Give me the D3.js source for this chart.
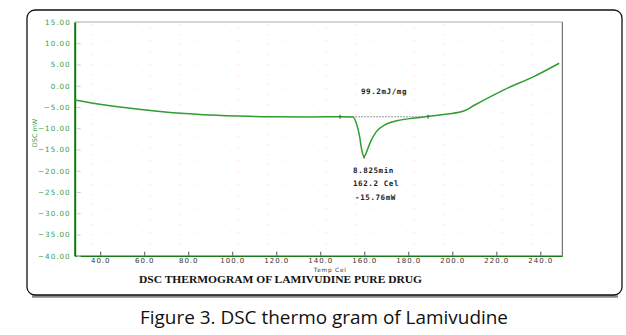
<!DOCTYPE html>
<html>
<head>
<meta charset="utf-8">
<script src="https://cdn.jsdelivr.net/npm/d3@7"></script>
<style>
  html, body { margin: 0; padding: 0; background: #fff; }
  svg { display: block; }
</style>
</head>
<body>
<svg id="chart" width="626" height="335"></svg>
<script>
// ---- data ----
const temps  = [28.5, 41.4, 56.5, 71.7, 86.8, 102, 117.1, 135, 148.9, 154.9, 156.4, 157.9, 158.6, 159.3, 159.9, 160.5, 161.4, 163.2, 165.5, 169.2, 175.2, 182.8, 190.4, 198, 205.5, 210, 223.7, 236.8, 248.6];
const values = [-3.36, -4.5, -5.5, -6.3, -6.8, -7.1, -7.3, -7.35, -7.3, -7.35, -8.85, -12, -14.4, -16.1, -16.7, -16.3, -15.1, -12.8, -10.8, -9.25, -8.2, -7.6, -7.1, -6.66, -5.9, -4.6, -0.9, 2.1, 5.3];
const xTicks = [40, 60, 80, 100, 120, 140, 160, 180, 200, 220, 240];
const yTicks = [15, 10, 5, 0, -5, -10, -15, -20, -25, -30, -35, -40];
const baselineT = [149, 189];
const baselineV = -7.3;
const peak = { t: 159.9, v: -16.7 };
const enthalpyLabel = "99.2mJ/mg";
const peakLabels = ["8.825min", "162.2 Cel", "-15.76mW"];
const title = "DSC THERMOGRAM OF LAMIVUDINE PURE DRUG";
const caption = "Figure 3. DSC thermo gram of Lamivudine";
const xLabel = "Temp Cel";
const yLabel = "DSC mW";

// ---- layout ----
const svg = d3.select("#chart");
const x = d3.scaleLinear().domain([28.4, 250]).range([74.7, 562.3]);
const y = d3.scaleLinear().domain([-40, 15]).range([255.7, 22]);

// outer frame
svg.append("line").attr("x1", 32).attr("x2", 618).attr("y1", 296.5).attr("y2", 296.5)
  .attr("stroke", "#888").attr("stroke-width", 2.5);
svg.append("rect").attr("x", 27).attr("y", 10).attr("width", 595).attr("height", 285)
  .attr("rx", 8).attr("fill", "none").attr("stroke", "#111").attr("stroke-width", 1.3);

// faint dotted grid
const grid = svg.append("g");
xTicks.forEach((t, i) => {
  grid.append("line").attr("x1", x(t) - 8).attr("x2", x(t) - 8).attr("y1", 24).attr("y2", 254)
    .attr("stroke", i % 2 ? "#d9f2d9" : "#f3d3f3").attr("stroke-dasharray", "1,9");
  grid.append("line").attr("x1", x(t) + 6).attr("x2", x(t) + 6).attr("y1", 28).attr("y2", 254)
    .attr("stroke", i % 2 ? "#f3d3f3" : "#d9f2d9").attr("stroke-dasharray", "1,11");
});

// plot borders
svg.append("line").attr("x1", x(28.4)).attr("x2", x(250)).attr("y1", y(15)).attr("y2", y(15))
  .attr("stroke", "#b0b0b0").attr("stroke-width", 1);
svg.append("line").attr("x1", x(250)).attr("x2", x(250)).attr("y1", y(15)).attr("y2", y(-40))
  .attr("stroke", "#555").attr("stroke-width", 1);

// x axis
const xAxis = svg.append("g").attr("transform", `translate(0,${y(-40)})`)
  .call(d3.axisBottom(x).tickValues(xTicks).tickSize(0).tickPadding(2.5).tickFormat(d3.format(".1f")));
xAxis.select(".domain").attr("stroke", "#1a7a1a").attr("stroke-width", 1.6);
xAxis.selectAll("text").attr("font-family", "DejaVu Sans").attr("font-size", 7)
  .attr("letter-spacing", 1).attr("fill", "#333");
xAxis.selectAll(".tick").append("line").attr("y1", 0).attr("y2", -4).attr("stroke", "#555");

// y axis
const yAxis = svg.append("g").attr("transform", `translate(${x(28.4)},0)`)
  .call(d3.axisLeft(y).tickValues(yTicks).tickSize(0).tickPadding(4).tickFormat(d3.format(".2f")));
yAxis.select(".domain").attr("stroke", "#0a7a0a").attr("stroke-width", 2);
yAxis.selectAll("text").attr("font-family", "DejaVu Sans").attr("font-size", 7.2)
  .attr("letter-spacing", 1).attr("fill", "#3aa040");
yAxis.selectAll(".tick").append("line").attr("x1", 2).attr("x2", 6).attr("stroke", "#ccc");

// axis titles
svg.append("text").attr("x", x(140) + 10).attr("y", 271.5).attr("text-anchor", "middle")
  .attr("font-family", "DejaVu Sans").attr("font-size", 5.8).attr("letter-spacing", 0.8)
  .attr("fill", "#333").text(xLabel);
svg.append("text").attr("transform", "translate(37,133) rotate(-90)").attr("text-anchor", "middle")
  .attr("font-family", "DejaVu Sans").attr("font-size", 6.5)
  .attr("fill", "#3aa040").text(yLabel);

// chart title
svg.append("text").attr("x", 280.5).attr("y", 283).attr("text-anchor", "middle")
  .attr("font-family", "Liberation Serif").attr("font-weight", "bold").attr("font-size", 9.5)
  .attr("textLength", 283).attr("lengthAdjust", "spacingAndGlyphs")
  .attr("fill", "#111").text(title);

// baseline
svg.append("line").attr("x1", x(baselineT[0])).attr("x2", x(baselineT[1]))
  .attr("y1", y(baselineV)).attr("y2", y(baselineV))
  .attr("stroke", "#999").attr("stroke-width", 1).attr("stroke-dasharray", "2,1");

// curve
const pts = temps.map((t, i) => [t, values[i]]);
svg.append("path").datum(pts)
  .attr("d", d3.line().x(d => x(d[0])).y(d => y(d[1])).curve(d3.curveMonotoneX))
  .attr("fill", "none").attr("stroke", "#2f9e2f").attr("stroke-width", 1.5);

// markers
baselineT.forEach(t => {
  svg.append("line").attr("x1", x(t)).attr("x2", x(t)).attr("y1", y(baselineV) - 2).attr("y2", y(baselineV) + 2)
    .attr("stroke", "#444").attr("stroke-width", 1);
});
svg.append("line").attr("x1", x(peak.t)).attr("x2", x(peak.t)).attr("y1", y(peak.v) - 1).attr("y2", y(peak.v) + 2)
  .attr("stroke", "#444").attr("stroke-width", 1);

// annotations
const ann = (txt, cx, cy) => svg.append("text").attr("x", cx).attr("y", cy).attr("text-anchor", "middle")
  .attr("font-family", "DejaVu Sans Mono").attr("font-weight", "bold").attr("font-size", 7.5)
  .attr("letter-spacing", 0.6).attr("fill", "#222").text(txt);
ann(enthalpyLabel, 384, 94);
ann(peakLabels[0], 373.5, 172.5);
ann(peakLabels[1], 376, 186);
ann(peakLabels[2], 375.5, 200);

// caption
svg.append("text").attr("x", 324).attr("y", 324).attr("text-anchor", "middle")
  .attr("font-family", "Open Sans").attr("font-size", 19)
  .attr("textLength", 368).attr("lengthAdjust", "spacingAndGlyphs")
  .attr("fill", "#111").text(caption);
</script>
</body>
</html>
